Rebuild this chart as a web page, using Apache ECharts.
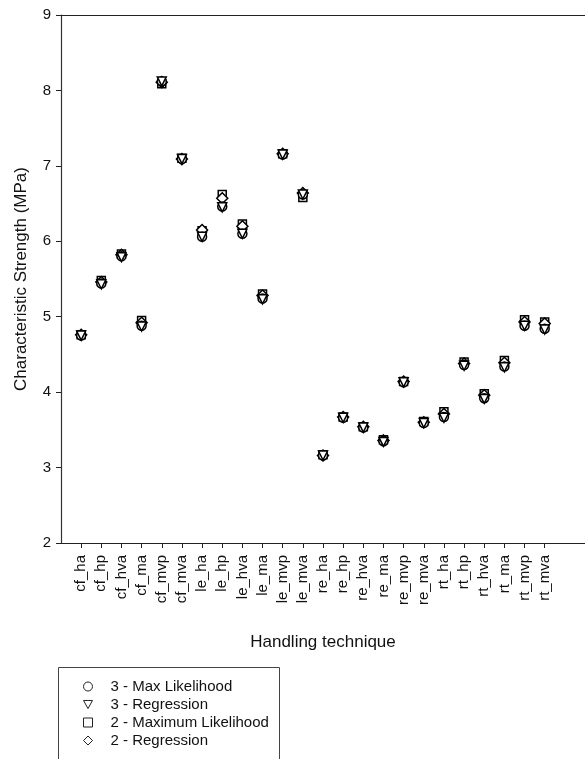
<!DOCTYPE html>
<html>
<head>
<meta charset="utf-8">
<script src="https://cdn.jsdelivr.net/npm/echarts@6/dist/echarts.min.js"></script>
<style>
  html, body { margin: 0; padding: 0; background: #fff; }
  #chart { width: 585px; height: 759px; }
</style>
</head>
<body>
<div id="chart"></div>
<script>
// Handling techniques along the x axis
const categories = [
  'cf_ha', 'cf_hp', 'cf_hva', 'cf_ma', 'cf_mvp', 'cf_mva',
  'le_ha', 'le_hp', 'le_hva', 'le_ma', 'le_mvp', 'le_mva',
  're_ha', 're_hp', 're_hva', 're_ma', 're_mvp', 're_mva',
  'rt_ha', 'rt_hp', 'rt_hva', 'rt_ma', 'rt_mvp', 'rt_mva'
];

// Characteristic strength (MPa) per estimation method
const maxLik3 = [4.75, 5.44, 5.80, 4.88, 8.12, 7.09, 6.06, 6.46, 6.10, 5.24, 7.15, 6.62,
                 3.16, 3.66, 3.53, 3.35, 4.13, 3.59, 3.67, 4.36, 3.92, 4.34, 4.88, 4.84];
const reg3    = [4.75, 5.43, 5.79, 4.87, 8.12, 7.09, 6.06, 6.45, 6.10, 5.23, 7.15, 6.62,
                 3.16, 3.66, 3.53, 3.34, 4.13, 3.59, 3.66, 4.35, 3.91, 4.33, 4.88, 4.83];
const maxLik2 = [4.76, 5.48, 5.83, 4.95, 8.09, 7.10, 6.14, 6.62, 6.23, 5.30, 7.16, 6.58,
                 3.17, 3.67, 3.54, 3.37, 4.14, 3.61, 3.74, 4.40, 3.98, 4.42, 4.96, 4.93];
const reg2    = [4.76, 5.46, 5.82, 4.92, 8.11, 7.09, 6.15, 6.57, 6.20, 5.28, 7.16, 6.64,
                 3.16, 3.67, 3.54, 3.36, 4.14, 3.60, 3.71, 4.38, 3.96, 4.39, 4.93, 4.91];

const seriesNames = ['3 - Max Likelihood', '3 - Regression', '2 - Maximum Likelihood', '2 - Regression'];
const yTicks = [2, 3, 4, 5, 6, 7, 8, 9];

const FONT = 'Liberation Sans, Arial, sans-serif';
const positions = categories.map((_, i) => i + 1);
const TRIANGLE_DOWN = 'path://M0,0L10,0L5,9Z';

function toPoints(values) {
  return values.map((v, i) => [positions[i], v]);
}

function scatter(name, values, symbol, rotate, size) {
  return {
    name: name,
    type: 'scatter',
    data: toPoints(values),
    symbol: symbol,
    symbolRotate: rotate,
    symbolSize: size,
    itemStyle: { color: '#fff', borderColor: '#000', borderWidth: 1.5, opacity: 1 },
    emphasis: { disabled: true },
    z: 3
  };
}

const chart = echarts.init(document.getElementById('chart'), null, { renderer: 'canvas' });

chart.setOption({
  animation: false,
  backgroundColor: '#fff',
  textStyle: { fontFamily: FONT },
  grid: { left: 61, top: 15, right: 0, bottom: 216, containLabel: false },
  xAxis: [
    {
      type: 'value',
      min: 0,
      max: 26,
      interval: 1,
      name: 'Handling technique',
      nameLocation: 'middle',
      nameGap: 91,
      nameTextStyle: { fontFamily: FONT, fontSize: 17, color: '#111' },
      axisLine: { show: true, lineStyle: { color: '#222', width: 1 } },
      axisTick: { show: true, length: 5, inside: false, customValues: positions, lineStyle: { color: '#222' } },
      axisLabel: {
        rotate: 90,
        margin: 12,
        fontSize: 15,
        fontFamily: FONT,
        color: '#111',
        customValues: positions,
        formatter: (v) => categories[v - 1] || ''
      },
      splitLine: { show: false }
    },
    {
      type: 'value',
      position: 'top',
      min: 0,
      max: 26,
      axisLine: { show: true, lineStyle: { color: '#222', width: 1 } },
      axisTick: { show: false },
      axisLabel: { show: false },
      splitLine: { show: false }
    }
  ],
  yAxis: {
    type: 'value',
    min: yTicks[0],
    max: yTicks[yTicks.length - 1],
    interval: 1,
    name: 'Characteristic Strength (MPa)',
    nameLocation: 'middle',
    nameGap: 31,
    nameTextStyle: { fontFamily: FONT, fontSize: 17, color: '#111' },
    axisLine: { show: true, lineStyle: { color: '#333', width: 1.2 } },
    axisTick: { show: true, length: 5, inside: false, lineStyle: { color: '#222' } },
    axisLabel: { fontSize: 15, fontFamily: FONT, color: '#111', margin: 10 },
    splitLine: { show: false }
  },
  legend: {
    orient: 'vertical',
    left: 58,
    top: 667,
    padding: [12, 10, 0, 25],
    itemWidth: 9,
    itemHeight: 9,
    itemGap: 3,
    selectedMode: false,
    itemStyle: { borderWidth: 1, borderColor: '#222', color: '#fff' },
    textStyle: { fontFamily: FONT, fontSize: 15, color: '#111', lineHeight: 15, padding: [0, 0, 0, 13] },
    data: [
      { name: seriesNames[0], icon: 'circle' },
      { name: seriesNames[1], icon: TRIANGLE_DOWN },
      { name: seriesNames[2], icon: 'rect' },
      { name: seriesNames[3], icon: 'diamond' }
    ]
  },
  // legend frame, running past the lower page edge
  graphic: [
    {
      type: 'rect',
      shape: { x: 58.5, y: 667.5, width: 221, height: 120 },
      style: { fill: 'none', stroke: '#444', lineWidth: 1 },
      silent: true
    }
  ],
  series: [
    scatter(seriesNames[2], maxLik2, 'rect', 0, 8),
    scatter(seriesNames[3], reg2, 'diamond', 0, 11),
    scatter(seriesNames[0], maxLik3, 'circle', 0, 9),
    scatter(seriesNames[1], reg3, 'triangle', 180, 9)
  ]
});
</script>
</body>
</html>
